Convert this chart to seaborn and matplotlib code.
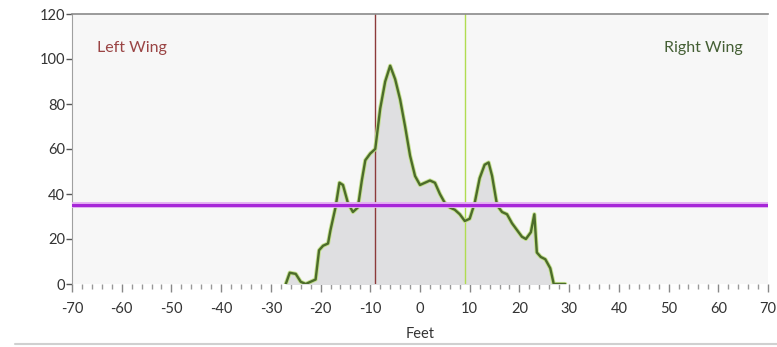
import matplotlib
matplotlib.use("Agg")
import matplotlib.pyplot as plt
from matplotlib.lines import Line2D
import seaborn as sns
import pandas as pd

# Lateral distribution profile across the swath
feet = [-27, -26.2, -25, -24, -23, -22, -21, -20.3, -19.5, -18.5, -18, -17, -16.2, -15.5,
        -14.5, -13.5, -12.5, -11.7, -11, -10, -9, -8, -7, -6, -5, -4, -3, -2, -1, 0,
        1, 2, 3, 4, 5, 6, 7, 8, 9, 10, 11, 12, 13, 13.8, 14.5, 15.5, 16.5, 17.5, 18.5,
        19.5, 20.5, 21.3, 22.3, 23, 23.5, 24.3, 25.2, 26.2, 26.9, 28, 29.2]
deposit = [0, 5, 4.5, 1, 0, 1, 2, 15, 17, 18, 24, 34, 45, 44,
           36, 32, 34, 46, 55, 58, 60, 78, 90, 97, 91, 82, 70, 57, 48, 44,
           45, 46, 45, 40, 36, 34, 33, 31, 28, 29, 36, 47, 53, 54, 48, 35, 32, 31, 27,
           24, 21, 20, 23, 31, 14, 12, 11, 7, 0, 0, 0]

left_wing_x = -9
right_wing_x = 9
average_level = 35

x_ticks = list(range(-70, 71, 10))
y_ticks = list(range(0, 121, 20))

df = pd.DataFrame({"Feet": feet, "Deposit": deposit})

sns.set_style("white")
plt.rcParams["font.family"] = ["Lato", "DejaVu Sans"]
plt.rcParams["axes.unicode_minus"] = False

fig = plt.figure(figsize=(7.77, 3.47), dpi=100)
ax = fig.add_axes([72 / 777, 63 / 347, 696 / 777, 270 / 347])
ax.set_facecolor("#f7f7f7")

ax.fill_between(df["Feet"], 0, df["Deposit"], color="#dfdfe1", zorder=1)
sns.lineplot(data=df, x="Feet", y="Deposit", ax=ax, color="#c4e08e",
             linewidth=3.0, zorder=3, sort=False)
sns.lineplot(data=df, x="Feet", y="Deposit", ax=ax, color="#4c6c2a",
             linewidth=1.7, zorder=4, sort=False)

ax.axvline(left_wing_x, color="#8c3a3a", linewidth=1.0, zorder=2)
ax.axvline(right_wing_x, color="#b0dc50", linewidth=1.0, zorder=2)
ax.axhline(average_level, color="#e4b0f2", linewidth=4.2, zorder=5)
ax.axhline(average_level, color="#a626d8", linewidth=2.2, zorder=6)

ax.text(-65, 105, "Left Wing", color="#9a4444", fontsize=11.5, va="center", ha="left")
ax.text(65, 105, "Right Wing", color="#445f34", fontsize=11.5, va="center", ha="right")

ax.set_xlim(-70, 70)
ax.set_ylim(0, 120)
ax.set_xticks(x_ticks)
ax.set_xticks(list(range(-70, 71, 2)), minor=True)
ax.set_yticks(y_ticks)
ax.tick_params(axis="x", which="major", direction="out", length=6, width=1,
               color="#888888", labelsize=10.5, labelcolor="#333333", pad=7, bottom=True)
ax.tick_params(axis="x", which="minor", direction="out", length=3.5, width=1,
               color="#999999", bottom=True)
ax.tick_params(axis="y", which="major", direction="out", length=4, width=1,
               color="#555555", labelsize=10.5, labelcolor="#333333", pad=1, left=True)

ax.set_xlabel("Feet", fontsize=10.5, color="#333333", labelpad=8)
ax.set_ylabel("")

for side in ("right", "bottom"):
    ax.spines[side].set_visible(False)
ax.spines["left"].set_color("#a0a0a0")
ax.spines["top"].set_color("#8a8a8a")
ax.spines["top"].set_linewidth(1.2)

fig.add_artist(Line2D([15 / 777, 1], [3 / 347, 3 / 347], color="#d0d0d0",
                      linewidth=1.5, transform=fig.transFigure))

fig.savefig("out.png", dpi=100)
